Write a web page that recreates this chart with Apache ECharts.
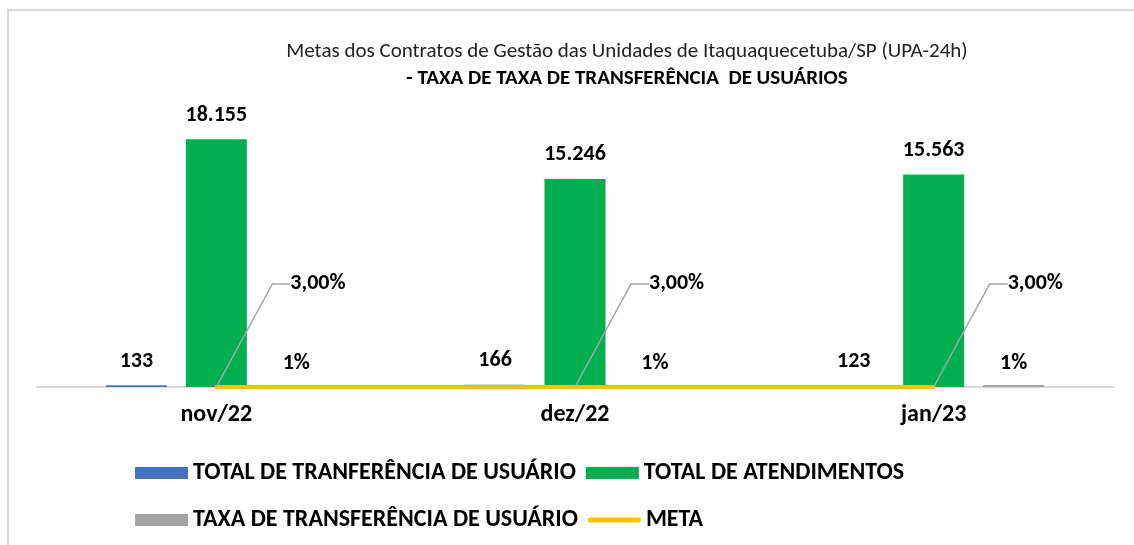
<!DOCTYPE html>
<html>
<head>
<meta charset="utf-8">
<script src="https://cdn.jsdelivr.net/npm/echarts@6/dist/echarts.min.js"></script>
<style>
  html, body { margin: 0; padding: 0; background: #fff; }
  #chart { width: 1134px; height: 545px; }
</style>
</head>
<body>
<div id="chart"></div>
<script>
const categories = ['nov/22', 'dez/22', 'jan/23']
const transferencias = [133, 166, 123]
const atendimentos = [18155, 15246, 15563]
const taxa = [0.01, 0.01, 0.01]
const meta = [0.03, 0.03, 0.03]

const FONT = "Carlito, 'Liberation Sans Narrow', 'Liberation Sans', sans-serif"

// numero no formato pt-BR (18.155)
function fmtNum(v) {
  return String(v).replace(/\B(?=(\d{3})+(?!\d))/g, '.')
}

const labelBase = {
  show: true,
  position: 'top',
  distance: 13,
  color: '#000',
  fontFamily: FONT,
  fontWeight: 'bold',
  fontSize: 22
}

const legendText = { fontFamily: FONT, fontWeight: 'bold', fontSize: 24, color: '#000', width: 385 }

const myChart = echarts.init(document.getElementById('chart'))

const option = {
  animation: false,
  backgroundColor: '#fff',
  graphic: [{
    type: 'polyline',
    shape: { points: [[8, 545], [8, 10], [1134, 10]] },
    style: { stroke: '#d9d9d9', lineWidth: 2, fill: null },
    silent: true
  }],
  title: {
    left: 622,
    top: 33,
    textAlign: 'center',
    text: '{a|Metas dos Contratos de Gestão das Unidades de Itaquaquecetuba/SP (UPA-24h)}\n{b|- TAXA DE TAXA DE TRANSFERÊNCIA  DE USUÁRIOS}',
    textStyle: {
      rich: {
        a: { fontFamily: FONT, fontSize: 21, fontWeight: 'normal', color: '#222', lineHeight: 27 },
        b: { fontFamily: FONT, fontSize: 21, fontWeight: 'bold', color: '#000', lineHeight: 27 }
      }
    }
  },
  legend: [
    {
      data: [
        { name: 'TOTAL DE TRANFERÊNCIA DE USUÁRIO', icon: 'rect' },
        { name: 'TOTAL DE ATENDIMENTOS', icon: 'rect' }
      ],
      left: 130,
      top: 456,
      itemWidth: 53,
      itemHeight: 12,
      itemGap: 10,
      textStyle: legendText
    },
    {
      data: [
        { name: 'TAXA DE TRANSFERÊNCIA DE USUÁRIO', icon: 'rect' },
        { name: 'META', icon: 'path://M2.5,0 L50.5,0 A2.5,2.5 0 0 1 50.5,5 L2.5,5 A2.5,2.5 0 0 1 2.5,0 Z' }
      ],
      left: 130,
      top: 503,
      itemWidth: 53,
      itemHeight: 12,
      itemGap: 10,
      textStyle: legendText
    }
  ],
  grid: {
    left: 37,
    right: 21,
    top: 114,
    bottom: 158
  },
  xAxis: {
    type: 'category',
    data: categories,
    axisTick: { show: false },
    axisLine: { lineStyle: { color: '#d9d9d9', width: 2 } },
    axisLabel: {
      margin: 16,
      color: '#000',
      fontFamily: FONT,
      fontWeight: 'bold',
      fontSize: 24
    }
  },
  yAxis: {
    type: 'value',
    min: 0,
    max: 20000,
    show: false,
    splitLine: { show: false }
  },
  series: [
    {
      name: 'TOTAL DE TRANFERÊNCIA DE USUÁRIO',
      type: 'bar',
      data: transferencias,
      barWidth: 61,
      barGap: '31%',
      itemStyle: { color: '#4472C4' },
      label: { ...labelBase, formatter: p => fmtNum(p.value) }
    },
    {
      name: 'TOTAL DE ATENDIMENTOS',
      type: 'bar',
      data: atendimentos,
      barWidth: 61,
      barGap: '31%',
      itemStyle: { color: '#00B050' },
      label: { ...labelBase, formatter: p => fmtNum(p.value) }
    },
    {
      name: 'TAXA DE TRANSFERÊNCIA DE USUÁRIO',
      type: 'bar',
      data: taxa,
      barWidth: 61,
      barGap: '31%',
      barMinHeight: 2,
      itemStyle: { color: '#A5A5A5' },
      label: { ...labelBase, distance: 11, formatter: p => Math.round(p.value * 100) + '%' }
    },
    {
      name: 'META',
      type: 'line',
      data: meta,
      z: 5,
      symbol: 'circle',
      symbolSize: 2,
      lineStyle: { color: '#FFC000', width: 4, cap: 'round' },
      itemStyle: { color: '#FFC000' },
      label: {
        show: true,
        position: 'right',
        distance: 5,
        color: '#000',
        fontFamily: FONT,
        fontWeight: 'bold',
        fontSize: 22,
        formatter: p => (p.value * 100).toFixed(2).replace('.', ',') + '%'
      },
      labelLayout: { dx: 68, dy: -103 },
      labelLine: {
        show: true,
        length2: 18,
        lineStyle: { color: '#A6A6A6', width: 1.5 }
      }
    }
  ]
}

myChart.setOption(option)
</script>
</body>
</html>
